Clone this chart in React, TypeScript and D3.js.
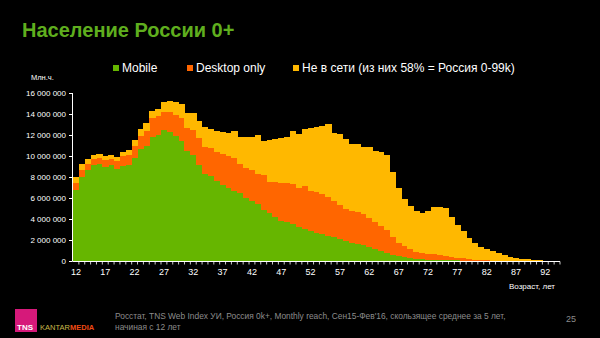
import React from "react";
import * as d3 from "d3";

const ages = [12,13,14,15,16,17,18,19,20,21,22,23,24,25,26,27,28,29,30,31,32,33,34,35,36,37,38,39,40,41,42,43,44,45,46,47,48,49,50,51,52,53,54,55,56,57,58,59,60,61,62,63,64,65,66,67,68,69,70,71,72,73,74,75,76,77,78,79,80,81,82,83,84,85,86,87,88,89,90,91,92,93,94];

// values in millions of people
const mobile = [6.8,8.0,8.7,9.1,9.2,8.95,9.1,8.8,9.05,9.1,9.8,10.7,11.0,11.85,12.0,12.45,12.25,11.9,11.45,10.45,10.1,9.15,8.3,8.1,7.6,7.2,7.0,6.65,6.45,6.0,5.7,5.4,4.9,4.6,4.15,3.85,3.75,3.55,3.2,3.05,2.85,2.7,2.6,2.4,2.3,2.05,1.95,1.7,1.6,1.5,1.3,1.12,0.95,0.8,0.56,0.46,0.34,0.25,0.19,0.16,0.13,0.11,0.09,0.07,0.06,0.05,0.04,0.03,0.03,0.02,0.02,0.01,0.01,0.01,0,0,0,0,0,0,0,0,0];
const desktop = [0.6,0.7,0.55,0.65,0.6,0.65,0.65,0.7,0.95,0.95,1.15,1.25,1.4,1.75,1.8,1.7,1.9,2.0,2.2,2.25,2.4,2.55,2.6,2.7,2.8,3.0,3.0,3.2,2.75,2.9,3.0,2.9,3.25,2.95,3.35,3.6,3.65,3.8,3.75,4.05,3.85,3.85,3.8,3.7,3.45,3.3,3.05,3.05,3.05,2.93,2.8,2.63,2.4,2.2,1.69,1.27,1.07,0.91,0.65,0.62,0.58,0.51,0.47,0.39,0.31,0.25,0.21,0.17,0.11,0.06,0.04,0.03,0.02,0.01,0.02,0.01,0.01,0,0,0,0,0,0];
const offline = [0.6,0.5,0.45,0.35,0.35,0.4,0.35,0.45,0.4,0.5,0.55,0.65,0.7,0.7,0.7,1.0,1.05,1.2,1.35,1.4,1.6,1.6,1.9,1.8,2.0,2.1,2.2,2.55,2.65,2.95,3.1,3.7,3.25,3.95,4.1,4.25,4.4,5.05,5.15,5.5,5.95,6.25,6.45,6.95,6.45,6.7,6.6,6.4,6.45,6.42,6.8,6.7,7.03,7.1,6.2,5.27,4.49,4.11,3.91,3.82,4.04,4.54,4.6,4.59,3.83,3.15,2.59,2.0,1.56,1.29,1.11,0.91,0.7,0.52,0.39,0.31,0.21,0.16,0.1,0.06,0.03,0.01,0];

const seriesNames = ["Mobile", "Desktop only", "Не в сети (из них 58% = Россия 0-99k)"];
const seriesColors = ["#66b600", "#ff6600", "#ffb800"];
const yTicks = [0, 2, 4, 6, 8, 10, 12, 14, 16];
const xLabelAges = [12,17,22,27,32,37,42,47,52,57,62,67,72,77,82,87,92];

const FONT = "'Liberation Sans', Arial, sans-serif";

export default function App() {
  const W = 600, H = 338;
  const x = d3.scaleBand<number>().domain(ages).range([73, 560]).padding(0);
  const y = d3.scaleLinear().domain([0, 16]).range([261, 93]);

  const table = ages.map((a, i) => ({ age: a, m: mobile[i], d: desktop[i], o: offline[i] }));
  const stack = d3.stack<any>().keys(["m", "d", "o"]);
  const layers = stack(table);
  const fmt = (v: number) => d3.format(",")(Math.round(v * 1e6)).replace(/,/g, " ");
  const bw = x.bandwidth();

  const legendX = [113, 187, 293];

  return (
    <div style={{ position: "fixed", left: 0, top: 0, width: W, height: H, background: "#000" }}>
      <svg width={W} height={H} style={{ display: "block", background: "#000" }}>
        <text x={22} y={37} fill="#5fae1e" fontFamily={FONT} fontWeight="bold" fontSize={20}>Население России 0+</text>

        {seriesNames.map((n, i) => (
          <g key={n}>
            <rect x={legendX[i]} y={65} width={6} height={6} fill={seriesColors[i]} />
            <text x={legendX[i] + 9} y={72} fill="#fff" fontFamily={FONT} fontSize={12}>{n}</text>
          </g>
        ))}

        <text x={31} y={80} fill="#fff" fontFamily={FONT} fontSize={7.5}>Млн.ч.</text>

        {layers.map((layer, li) => (
          <g key={li} fill={seriesColors[li]}>
            {layer.map((d: any, i: number) => {
              const h = y(d[0]) - y(d[1]);
              if (h <= 0) return null;
              return (
                <rect key={i} x={x(d.data.age)!} y={y(d[1])} width={bw + 0.4} height={h} shapeRendering="crispEdges" />
              );
            })}
          </g>
        ))}

        {/* Y axis */}
        <line x1={72.5} x2={72.5} y1={y(16)} y2={y(0)} stroke="#fff" strokeWidth={1} />
        {yTicks.map((t) => (
          <g key={t}>
            <line x1={69} x2={72.5} y1={y(t) + 0.5} y2={y(t) + 0.5} stroke="#fff" />
            <text x={66} y={y(t) + 3} fill="#fff" fontFamily={FONT} fontSize={8} textAnchor="end">{fmt(t)}</text>
          </g>
        ))}

        {/* X axis */}
        <line x1={72.5} x2={560} y1={261.5} y2={261.5} stroke="#fff" strokeWidth={1.2} />
        {ages.map((a) => (
          <line key={a} x1={x(a)! + bw} x2={x(a)! + bw} y1={261.5} y2={264.5} stroke="#fff" strokeWidth={0.8} />
        ))}
        {xLabelAges.map((a) => (
          <text key={a} x={x(a)! + bw / 2} y={275} fill="#fff" fontFamily={FONT} fontSize={9} textAnchor="middle">{a}</text>
        ))}
        <text x={555} y={289} fill="#fff" fontFamily={FONT} fontSize={8} textAnchor="end">Возраст, лет</text>

        {/* Footer */}
        <rect x={15} y={309} width={22} height={23} fill="#d6197a" />
        <text x={17} y={330} fill="#fff" fontFamily={FONT} fontWeight="bold" fontSize={8}>TNS</text>
        <text x={40} y={330} fill="#c9b84a" fontFamily={FONT} fontSize={7.5}>KANTAR</text>
        <text x={70} y={330} fill="#f04a14" fontFamily={FONT} fontWeight="bold" fontSize={7.5}>MEDIA</text>
        <text x={115} y={319} fill="#8c8c8c" fontFamily={FONT} fontSize={8.4}>Росстат, TNS Web Index УИ, Россия 0k+, Monthly reach, Сен15-Фев'16, скользящее среднее за 5 лет,</text>
        <text x={115} y={330} fill="#8c8c8c" fontFamily={FONT} fontSize={8.4}>начиная с 12 лет</text>
        <text x={566} y={322} fill="#8c8c8c" fontFamily={FONT} fontSize={9}>25</text>
      </svg>
    </div>
  );
}
